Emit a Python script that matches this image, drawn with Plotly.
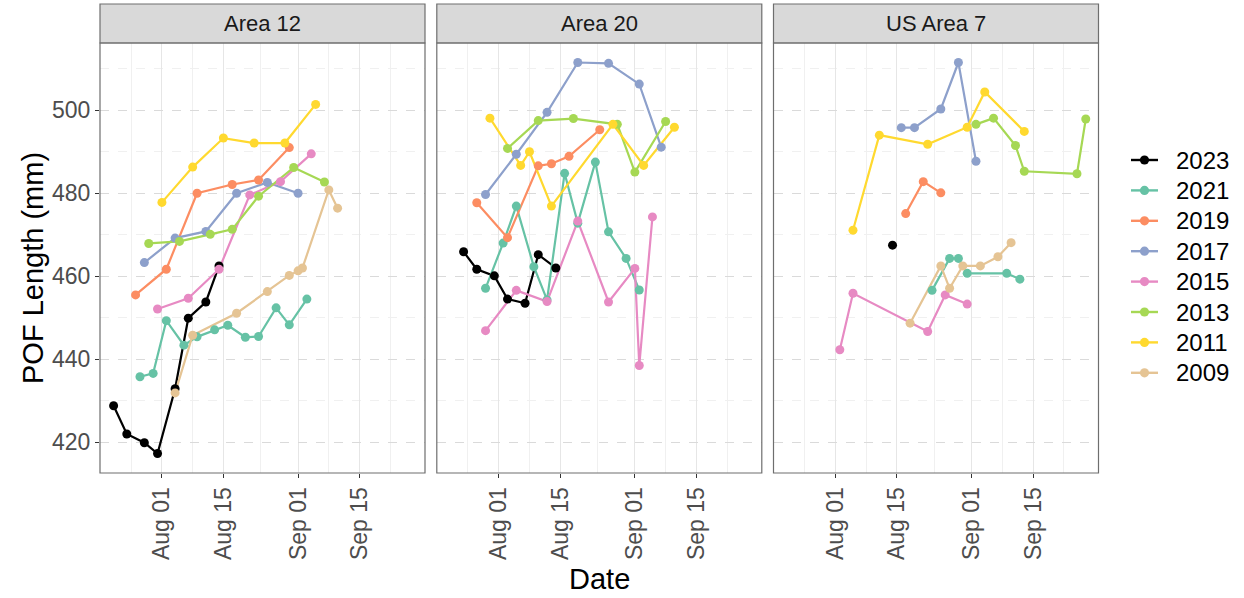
import plotly.graph_objects as go

W, H = 1244, 598
FONT = "Liberation Sans, Arial, sans-serif"

panel_names = ["Area 12", "Area 20", "US Area 7"]
years = ["2023", "2021", "2019", "2017", "2015", "2013", "2011", "2009"]
year_colors = ["#000000", "#66C2A5", "#FC8D62", "#8DA0CB",
               "#E78AC3", "#A6D854", "#FFD92F", "#E5C494"]

x_tick_vals = ["2023-08-01", "2023-08-15", "2023-09-01", "2023-09-15"]
x_tick_text = ["Aug 01", "Aug 15", "Sep 01", "Sep 15"]
x_minor_vals = ["2023-07-25", "2023-08-08", "2023-08-23 12:00", "2023-09-08", "2023-09-22"]
y_tick_vals = [420, 440, 460, 480, 500]
y_minor_vals = [410, 430, 450, 470, 490, 510]

# ---------------- Area 12 ----------------
a12_2023_d = ["07-21", "07-24", "07-28", "07-31", "08-04", "08-07", "08-11", "08-14"]
a12_2023_v = [428.8, 422.0, 419.9, 417.3, 432.9, 449.9, 453.8, 462.5]
a12_2021_d = ["07-27", "07-30", "08-02", "08-06", "08-09", "08-13", "08-16", "08-20", "08-23", "08-27", "08-30", "09-03"]
a12_2021_v = [435.8, 436.6, 449.3, 443.4, 445.4, 447.1, 448.2, 445.3, 445.5, 452.4, 448.3, 454.5]
a12_2019_d = ["07-26", "08-02", "08-09", "08-17", "08-23", "08-30"]
a12_2019_v = [455.5, 461.7, 480.0, 482.1, 483.2, 491.0]
a12_2017_d = ["07-28", "08-04", "08-11", "08-18", "08-25", "09-01"]
a12_2017_v = [463.3, 469.2, 470.8, 480.0, 482.6, 480.0]
a12_2015_d = ["07-31", "08-07", "08-14", "08-21", "08-28", "09-04"]
a12_2015_v = [452.1, 454.7, 461.7, 479.6, 482.8, 489.5]
a12_2013_d = ["07-29", "08-05", "08-12", "08-17", "08-23", "08-31", "09-07"]
a12_2013_v = [467.9, 468.4, 470.1, 471.3, 479.3, 486.2, 482.7]
a12_2011_d = ["08-01", "08-08", "08-15", "08-22", "08-29", "09-05"]
a12_2011_v = [477.8, 486.3, 493.3, 492.1, 492.1, 501.4]
a12_2009_d = ["08-04", "08-08", "08-18", "08-25", "08-30", "09-01", "09-02", "09-08", "09-10"]
a12_2009_v = [431.9, 445.8, 451.1, 456.3, 460.2, 461.3, 462.0, 480.8, 476.4]

# ---------------- Area 20 ----------------
a20_2023_d = ["07-24", "07-27", "07-31", "08-03", "08-07", "08-10", "08-14"]
a20_2023_v = [465.9, 461.7, 460.1, 454.5, 453.5, 465.2, 462.0]
a20_2021_d = ["07-29", "08-02", "08-05", "08-09", "08-12", "08-16", "08-19", "08-23", "08-26", "08-30", "09-02"]
a20_2021_v = [457.1, 468.0, 476.9, 462.3, 454.3, 484.8, 472.8, 487.5, 470.7, 464.3, 456.7]
a20_2019_d = ["07-27", "08-03", "08-10", "08-13", "08-17", "08-24"]
a20_2019_v = [477.7, 469.3, 486.6, 487.1, 488.9, 495.3]
a20_2017_d = ["07-29", "08-05", "08-12", "08-19", "08-26", "09-02", "09-07"]
a20_2017_v = [479.7, 489.4, 499.5, 511.5, 511.3, 506.3, 491.1]
a20_2015_d = ["07-29", "08-05", "08-12", "08-19", "08-26", "09-01", "09-02", "09-05"]
a20_2015_v = [446.9, 456.6, 453.9, 473.3, 453.8, 461.9, 438.5, 474.3]
a20_2013_d = ["08-03", "08-10", "08-18", "08-28", "09-01", "09-08"]
a20_2013_v = [490.8, 497.5, 498.0, 496.6, 485.1, 497.3]
a20_2011_d = ["07-30", "08-06", "08-08", "08-13", "08-27", "09-03", "09-10"]
a20_2011_v = [498.1, 486.7, 490.0, 476.9, 496.6, 486.7, 495.9]
a20_2009_d = []
a20_2009_v = []

# ---------------- US Area 7 ----------------
us7_2023_d = ["08-14"]
us7_2023_v = [467.5]
us7_2021_d = ["08-23", "08-27", "08-29", "08-31", "09-09", "09-12"]
us7_2021_v = [456.6, 464.3, 464.3, 460.7, 460.7, 459.3]
us7_2019_d = ["08-17", "08-21", "08-25"]
us7_2019_v = [475.1, 482.8, 480.1]
us7_2017_d = ["08-16", "08-19", "08-25", "08-29", "09-02"]
us7_2017_v = [495.8, 495.8, 500.3, 511.5, 487.7]
us7_2015_d = ["08-02", "08-05", "08-22", "08-26", "08-31"]
us7_2015_v = [442.3, 455.9, 446.7, 455.5, 453.3]
us7_2013_d = ["09-02", "09-06", "09-11", "09-13", "09-25", "09-27"]
us7_2013_v = [496.6, 498.1, 491.5, 485.3, 484.7, 497.9]
us7_2011_d = ["08-05", "08-11", "08-22", "08-31", "09-04", "09-13"]
us7_2011_v = [471.1, 494.0, 491.8, 495.9, 504.4, 494.9]
us7_2009_d = ["08-18", "08-25", "08-27", "08-30", "09-03", "09-07", "09-10"]
us7_2009_v = [448.7, 462.5, 457.1, 462.5, 462.5, 464.7, 468.1]

series = {
    "Area 12": [(a12_2023_d, a12_2023_v), (a12_2021_d, a12_2021_v), (a12_2019_d, a12_2019_v),
                (a12_2017_d, a12_2017_v), (a12_2015_d, a12_2015_v), (a12_2013_d, a12_2013_v),
                (a12_2011_d, a12_2011_v), (a12_2009_d, a12_2009_v)],
    "Area 20": [(a20_2023_d, a20_2023_v), (a20_2021_d, a20_2021_v), (a20_2019_d, a20_2019_v),
                (a20_2017_d, a20_2017_v), (a20_2015_d, a20_2015_v), (a20_2013_d, a20_2013_v),
                (a20_2011_d, a20_2011_v), (a20_2009_d, a20_2009_v)],
    "US Area 7": [(us7_2023_d, us7_2023_v), (us7_2021_d, us7_2021_v), (us7_2019_d, us7_2019_v),
                  (us7_2017_d, us7_2017_v), (us7_2015_d, us7_2015_v), (us7_2013_d, us7_2013_v),
                  (us7_2011_d, us7_2011_v), (us7_2009_d, us7_2009_v)],
}

# ---------------- layout geometry (pixels) ----------------
panel_left = [100, 436.8, 773.5]
panel_w = 325
panel_top, panel_bot = 43, 473
strip_top = 4
X_RANGE = ["2023-07-17 21:36", "2023-09-29 21:36"]
Y_RANGE = [412.6, 516.2]
TICK_SIZE = 23
LEG_Y0, LEG_DY = 160, 30.4
LEG_LINE_X0, LEG_LINE_X1, LEG_TEXT_X = 1131, 1158, 1174


def px(x):
    return x / W


def py(y):
    return 1 - y / H


fig = go.Figure()

for i, pname in enumerate(panel_names):
    xa = "x" if i == 0 else f"x{i+1}"
    ya = "y" if i == 0 else f"y{i+1}"
    data = series[pname]
    # lines first (all groups), then points (all groups), like ggplot layers
    for (d, v), yr, col in zip(data, years, year_colors):
        if not d:
            continue
        fig.add_trace(go.Scatter(x=["2023-" + s for s in d], y=v, mode="lines",
                                 line=dict(color=col, width=2.2), xaxis=xa, yaxis=ya,
                                 showlegend=False, hoverinfo="skip"))
    for (d, v), yr, col in zip(data, years, year_colors):
        if not d:
            continue
        fig.add_trace(go.Scatter(x=["2023-" + s for s in d], y=v, mode="markers",
                                 marker=dict(color=col, size=9, line=dict(width=0)),
                                 xaxis=xa, yaxis=ya, showlegend=False, name=yr))

axis_common_x = dict(
    type="date", range=X_RANGE, tickmode="array", tickvals=x_tick_vals, ticktext=x_tick_text,
    tickangle=-90, ticks="outside", ticklen=4, tickwidth=1, tickcolor="#333333",
    tickfont=dict(family=FONT, size=TICK_SIZE, color="#4D4D4D"),
    showgrid=True, gridcolor="#E6E6E6", gridwidth=1.2,
    minor=dict(tickmode="array", tickvals=x_minor_vals, showgrid=True,
               gridcolor="#F0F0F0", gridwidth=1, ticks=""),
    zeroline=False, showline=False, fixedrange=True,
)
axis_common_y = dict(
    range=Y_RANGE, tickmode="array", tickvals=y_tick_vals,
    showgrid=True, gridcolor="#DADADA", gridwidth=1.4, griddash="dash",
    minor=dict(tickmode="array", tickvals=y_minor_vals, showgrid=True,
               gridcolor="#F0F0F0", gridwidth=1, ticks=""),
    zeroline=False, showline=False, fixedrange=True,
)

layout = dict(width=W, height=H, autosize=False, margin=dict(l=0, r=0, t=0, b=0),
              paper_bgcolor="white", plot_bgcolor="white", font=dict(family=FONT),
              showlegend=False)
for i in range(3):
    xn = "xaxis" if i == 0 else f"xaxis{i+1}"
    yn = "yaxis" if i == 0 else f"yaxis{i+1}"
    xa = dict(axis_common_x)
    xa["domain"] = [px(panel_left[i]), px(panel_left[i] + panel_w)]
    xa["anchor"] = "y" if i == 0 else f"y{i+1}"
    ya = dict(axis_common_y)
    ya["domain"] = [py(panel_bot), py(panel_top)]
    ya["anchor"] = "x" if i == 0 else f"x{i+1}"
    if i == 0:
        ya.update(ticks="outside", ticklen=4, tickwidth=1, tickcolor="#333333",
                  showticklabels=True,
                  tickfont=dict(family=FONT, size=TICK_SIZE, color="#4D4D4D"))
    else:
        ya.update(ticks="", showticklabels=False)
    layout[xn] = xa
    layout[yn] = ya

shapes = []
annotations = []
for i, pname in enumerate(panel_names):
    x0, x1 = px(panel_left[i]), px(panel_left[i] + panel_w)
    shapes.append(dict(type="rect", xref="paper", yref="paper", x0=x0, x1=x1,
                       y0=py(panel_top), y1=py(strip_top), fillcolor="#D9D9D9",
                       line=dict(color="#6E6E6E", width=1.2), layer="above"))
    shapes.append(dict(type="rect", xref="paper", yref="paper", x0=x0, x1=x1,
                       y0=py(panel_bot), y1=py(panel_top), fillcolor="rgba(0,0,0,0)",
                       line=dict(color="#6E6E6E", width=1.2), layer="above"))
    annotations.append(dict(text=pname, xref="paper", yref="paper",
                            x=(x0 + x1) / 2, y=py((strip_top + panel_top) / 2 + 0.5),
                            xanchor="center", yanchor="middle", showarrow=False,
                            font=dict(family=FONT, size=22, color="#1A1A1A")))

annotations.append(dict(text="POF Length (mm)", xref="paper", yref="paper",
                        x=px(33), y=py(268), xanchor="center", yanchor="middle",
                        textangle=-90, showarrow=False,
                        font=dict(family=FONT, size=29, color="#000000")))
annotations.append(dict(text="Date", xref="paper", yref="paper",
                        x=px(599), y=py(579), xanchor="center", yanchor="middle",
                        showarrow=False, font=dict(family=FONT, size=29, color="#000000")))

# manual legend (key: line + point, then label)
for k, (yr, col) in enumerate(zip(years, year_colors)):
    yy = LEG_Y0 + k * LEG_DY
    shapes.append(dict(type="line", xref="paper", yref="paper",
                       x0=px(LEG_LINE_X0), x1=px(LEG_LINE_X1), y0=py(yy), y1=py(yy),
                       line=dict(color=col, width=2.4)))
    cx = (LEG_LINE_X0 + LEG_LINE_X1) / 2
    shapes.append(dict(type="circle", xref="paper", yref="paper",
                       x0=px(cx - 4.6), x1=px(cx + 4.6), y0=py(yy + 4.6), y1=py(yy - 4.6),
                       fillcolor=col, line=dict(width=0)))
    annotations.append(dict(text=yr, xref="paper", yref="paper", x=px(LEG_TEXT_X), y=py(yy),
                            xanchor="left", yanchor="middle", showarrow=False,
                            font=dict(family=FONT, size=24, color="#000000")))

layout["shapes"] = shapes
layout["annotations"] = annotations

fig.update_layout(**layout)
fig.write_html("out.html")
